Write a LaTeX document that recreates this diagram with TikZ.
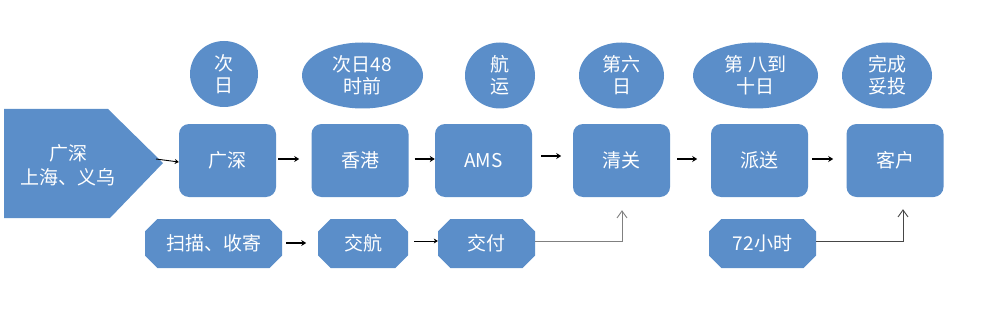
\documentclass[tikz,border=0pt]{standalone}
\usepackage{fontspec}
\setmainfont{Noto Sans CJK SC}
\usetikzlibrary{shapes.geometric,shapes.misc,arrows.meta}
\definecolor{boxblue}{RGB}{91,142,201}
\definecolor{lgrey}{RGB}{128,128,128}
\definecolor{dgrey}{RGB}{70,70,70}
\begin{document}
\begin{tikzpicture}[x=1pt,y=-1pt,
  base/.style={fill=boxblue,text=white,inner sep=0pt,font=\fontsize{19}{22}\selectfont,align=center},
  rbox/.style={base,rounded corners=10pt,minimum width=97pt,minimum height=73pt},
  ell/.style={base,ellipse,minimum height=66pt},
  oct/.style={base,chamfered rectangle,chamfered rectangle xsep=10pt,minimum height=49pt},
  arr/.style={line width=1.6pt,-{Stealth[length=5pt,width=6pt]}},
  tarr/.style={line width=0.9pt,-{Stealth[length=4pt,width=5pt]}},
  uparr/.style={line width=0.9pt,-{Straight Barb[length=7pt,width=10pt]}}]
\useasboundingbox (0,0) rectangle (1000,326);
% source pentagon
\fill[boxblue] (4,109) -- (108,109) -- (163,163) -- (110,218) -- (4,218) -- cycle;
\node[text=white,font=\fontsize{19}{24}\selectfont,align=center,inner sep=0pt] (src) at (68,165) {广深\\上海、义乌};
\coordinate (srctip) at (156,159);
% main boxes
\node[rbox] (gz) at (227.5,160.5) {广深};
\node[rbox] (hk) at (360,160.5) {香港};
\node[rbox] (ams) at (483.5,160.5) {AMS};
\node[rbox] (qg) at (621.5,160.5) {清关};
\node[rbox] (ps) at (759.5,160.5) {派送};
\node[rbox] (kh) at (895,160.5) {客户};
% ellipses
\node[ell,minimum width=68pt] (e1) at (224,74) {次\\日};
\node[ell,minimum width=121pt] (e2) at (362.5,75.5) {次日48\\时前};
\node[ell,minimum width=70pt] (e3) at (500,75.5) {航\\运};
\node[ell,minimum width=85pt] (e4) at (621.5,75.5) {第六\\日};
\node[ell,minimum width=125pt] (e5) at (755.5,75.5) {第 八到\\十日};
\node[ell,minimum width=90pt] (e6) at (887,75.5) {完成\\妥投};
% octagons
\node[oct,minimum width=137pt] (o1) at (213.5,243.5) {扫描、收寄};
\node[oct,minimum width=90pt] (o2) at (363,243.5) {交航};
\node[oct,minimum width=97pt] (o3) at (486.5,243.5) {交付};
\node[oct,minimum width=107pt] (o4) at (762.5,243.5) {72小时};
% arrows main row
\draw[tarr] (srctip) -- ([yshift=-1.5pt]gz.west);
\draw[arr] ([xshift=2pt,yshift=1.5pt]gz.east) -- ++(21,0);
\draw[arr] ([xshift=6pt,yshift=1.5pt]hk.east) -- ([yshift=1.5pt]ams.west);
\draw[arr] ([xshift=9pt,yshift=4.5pt]ams.east) -- ++(20,0);
\draw[arr] ([xshift=7pt,yshift=1.5pt]qg.east) -- ++(20,0);
\draw[arr] ([xshift=4pt,yshift=1.5pt]ps.east) -- ++(21,0);
% arrows bottom row
\draw[arr] ([xshift=4pt,yshift=0.5pt]o1.east) -- ++(20,0);
\draw[tarr] ([xshift=6pt,yshift=2.5pt]o2.east) -- ([yshift=2.5pt]o3.west);
% up connectors
\draw[uparr,lgrey] ([yshift=2pt]o3.east) -| ([xshift=0.5pt,yshift=-13pt]qg.south);
\draw[uparr,dgrey] ([yshift=2pt]o4.east) -| ([xshift=8pt,yshift=-12pt]kh.south);
\end{tikzpicture}
\end{document}
